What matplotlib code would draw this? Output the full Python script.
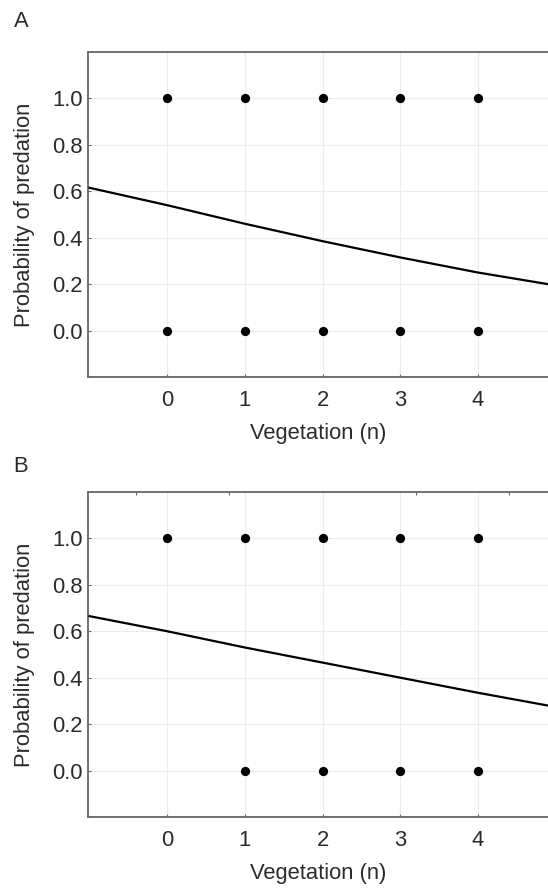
import matplotlib.pyplot as plt
import numpy as np

plt.rcParams['font.family'] = ['Liberation Sans', 'DejaVu Sans']

# observed outcomes (0 = survived, 1 = predated) per vegetation count
veg_a_pred = [0, 1, 2, 3, 4]
veg_a_surv = [0, 1, 2, 3, 4]
veg_b_pred = [0, 1, 2, 3, 4]
veg_b_surv = [1, 2, 3, 4]

# fitted probability curves
curve_x = [-1.0, 0.0, 1.0, 2.0, 3.0, 4.0, 4.9]
curve_a = [0.615, 0.54, 0.46, 0.385, 0.315, 0.25, 0.20]
curve_b = [0.665, 0.60, 0.53, 0.465, 0.40, 0.335, 0.28]

x_ticks = [0, 1, 2, 3, 4]
y_ticks = [0.0, 0.2, 0.4, 0.6, 0.8, 1.0]
top_ticks_a = [0, 1, 2, 3, 4]
top_ticks_b = [-0.4, 0.8, 2.0, 3.2, 4.4]

TXT = '#2b2b2b'
SPINE = '#666666'
FS = 15.8

fig = plt.figure(figsize=(5.48, 8.93), dpi=100)
ax_a = fig.add_axes([0.1606, 0.5778, 0.8394, 0.364])
ax_b = fig.add_axes([0.1606, 0.0851, 0.8394, 0.364])

panels = [
    (ax_a, veg_a_pred, veg_a_surv, curve_a, top_ticks_a, 'A', 0.988),
    (ax_b, veg_b_pred, veg_b_surv, curve_b, top_ticks_b, 'B', 0.489),
]

for ax, xp, xs, cy, tt, tag, ty in panels:
    ax.plot(curve_x, cy, color='black', lw=1.6, zorder=3)
    ax.scatter(xp, np.ones(len(xp)), s=32, color='black', zorder=4)
    ax.scatter(xs, np.zeros(len(xs)), s=32, color='black', zorder=4)
    ax.set_xlim(-1.02, 4.9)
    ax.set_ylim(-0.2, 1.2)
    ax.set_xticks(x_ticks)
    ax.set_yticks(y_ticks)
    ax.set_yticklabels([f'{v:.1f}' for v in y_ticks])
    ax.grid(True, color='#ececec', lw=0.8, zorder=0)
    ax.tick_params(direction='in', length=2.5, width=0.8, color=SPINE,
                   labelsize=FS, labelcolor=TXT)
    ax.tick_params(axis='x', pad=9)
    ax.tick_params(axis='y', pad=4)
    for side in ['left', 'bottom', 'top']:
        ax.spines[side].set_color(SPINE)
        ax.spines[side].set_linewidth(1.3)
    ax.spines['right'].set_visible(False)
    top = ax.secondary_xaxis('top')
    top.set_xticks(tt)
    top.set_xticklabels([])
    top.tick_params(direction='in', length=2.5, width=0.8, color=SPINE)
    top.spines['top'].set_visible(False)
    ax.set_xlabel('Vegetation (n)', fontsize=FS, color=TXT, labelpad=9)
    ax.set_ylabel('Probability of predation', fontsize=FS, color=TXT, labelpad=12)
    fig.text(0.025, ty, tag, fontsize=FS, color=TXT, ha='left', va='top')

fig.savefig('out.png', dpi=100)
